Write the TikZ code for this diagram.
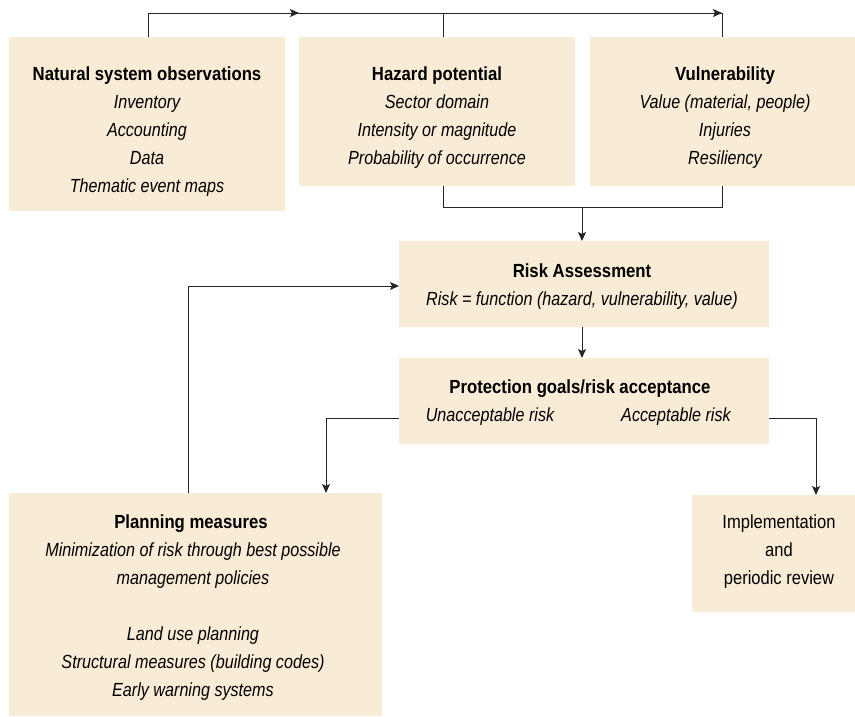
\documentclass[tikz,border=0pt]{standalone}
\usepackage{fontspec}
\setmainfont{Liberation Sans}[FakeStretch=0.85, BoldFeatures={FakeStretch=0.88}, UprightFeatures={FakeStretch=0.87}]
\usetikzlibrary{arrows.meta}
\definecolor{boxfill}{RGB}{248,236,214}
\begin{document}
\begin{tikzpicture}[x=1pt,y=-1pt,
  box/.style={fill=boxfill, draw=none, anchor=north west, inner sep=0pt},
  ttl/.style={anchor=base, inner sep=0pt, font=\fontsize{19}{22}\selectfont\bfseries},
  itm/.style={anchor=base, inner sep=0pt, font=\fontsize{19}{22}\selectfont\itshape},
  pln/.style={anchor=base, inner sep=0pt, font=\fontsize{19}{22}\selectfont},
  conn/.style={draw=black!85, line width=1pt},
  arr/.style={conn, -{Stealth[length=9pt,width=8pt,inset=2pt]}}]
\useasboundingbox (0,0) rectangle (855,716);
% boxes
\node[box, minimum width=276pt, minimum height=174pt] (nat) at (9,37) {};
\node[box, minimum width=276pt, minimum height=149pt] (haz) at (299,37) {};
\node[box, minimum width=265pt, minimum height=149pt] (vul) at (590,37) {};
\node[box, minimum width=370pt, minimum height=86pt] (risk) at (399,241) {};
\node[box, minimum width=370pt, minimum height=86pt] (prot) at (399,358) {};
\node[box, minimum width=373pt, minimum height=223pt] (plan) at (9,493) {};
\node[box, minimum width=163pt, minimum height=117pt] (impl) at (692,495) {};
% texts
\node[ttl] (t1) at (147,80) {Natural system observations};
\node[itm] (t1a) at (147,108) {Inventory};
\node[itm] (t1b) at (147,136) {Accounting};
\node[itm] (t1c) at (147,164) {Data};
\node[itm] (t1d) at (147,192) {Thematic event maps};
\node[ttl] (t2) at (437,80) {Hazard potential};
\node[itm] (t2a) at (437,108) {Sector domain};
\node[itm] (t2b) at (437,136) {Intensity or magnitude};
\node[itm] (t2c) at (437,164) {Probability of occurrence};
\node[ttl] (t3) at (725,80) {Vulnerability};
\node[itm] (t3a) at (725,108) {Value (material, people)};
\node[itm] (t3b) at (725,136) {Injuries};
\node[itm] (t3c) at (725,164) {Resiliency};
\node[ttl] (t4) at (582,277) {Risk Assessment};
\node[itm] (t4a) at (582,305) {Risk = function (hazard, vulnerability, value)};
\node[ttl] (t5) at (580,393) {Protection goals/risk acceptance};
\node[itm] (t5a) at (490,421) {Unacceptable risk};
\node[itm] (t5b) at (676,421) {Acceptable risk};
\node[ttl] (t6) at (191,528) {Planning measures};
\node[itm] (t6a) at (193,556) {Minimization of risk through best possible};
\node[itm] (t6b) at (193,584) {management policies};
\node[itm] (t6c) at (193,640) {Land use planning};
\node[itm] (t6d) at (193,668) {Structural measures (building codes)};
\node[itm] (t6e) at (193,696) {Early warning systems};
\node[pln] (t7a) at (779,528) {Implementation};
\node[pln] (t7b) at (779,556) {and};
\node[pln] (t7c) at (779,584) {periodic review};
% connectors
\coordinate (c1) at (148,13);
\coordinate (c2) at (722,13);
\coordinate (cm) at (299,13);
\draw[conn] (nat.north -| c1) -- (c1) -- (c2) -- (vul.north -| c2);
\draw[arr] (c1) -- (cm);
\draw[arr] (cm) -- (c2);
\draw[conn] (haz.north -| 443,0) -- (443,13);
\coordinate (b1) at (443,207);
\coordinate (b2) at (722,207);
\coordinate (bm) at (582,207);
\draw[conn] (haz.south -| b1) -- (b1) -- (b2) -- (vul.south -| b2);
\draw[arr] (bm) -- (risk.north -| bm);
\draw[arr] (risk.south -| bm) -- (prot.north -| bm);
\coordinate (f1) at (188,286);
\draw[arr] (plan.north -| f1) -- (f1) -- (risk.west |- f1);
\coordinate (u1) at (326,418);
\draw[arr] (prot.west |- u1) -- (u1) -- (plan.north -| u1);
\coordinate (a1) at (816,418);
\draw[arr] (prot.east |- a1) -- (a1) -- (impl.north -| a1);
\end{tikzpicture}
\end{document}
